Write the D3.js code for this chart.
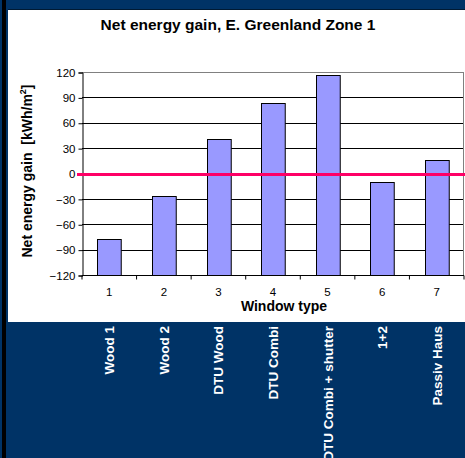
<!DOCTYPE html>
<html>
<head>
<meta charset="utf-8">
<script src="https://cdn.jsdelivr.net/npm/d3@7"></script>
<style>
html,body{margin:0;padding:0;background:#003366;}
svg{display:block;font-family:"Liberation Sans",Arial,sans-serif;}
</style>
</head>
<body>
<script>
const categories = ["1","2","3","4","5","6","7"];
const windowNames = ["Wood 1","Wood 2","DTU Wood","DTU Combi","DTU Combi + shutter","1+2","Passiv Haus"];
const values = [-77,-27,41,83,116,-10,16];
const yTicks = [-120,-90,-60,-30,0,30,60,90,120];
const title = "Net energy gain, E. Greenland Zone 1";
const xTitle = "Window type";

(function () {
const W = 465, H = 458;
const svg = d3.select("body").append("svg").attr("width", W).attr("height", H);

// background
svg.append("rect").attr("width", W).attr("height", H).attr("fill", "#003366");
svg.append("rect").attr("x", 2).attr("y", 0).attr("width", 4).attr("height", H).attr("fill", "#000");
svg.append("rect").attr("x", 8).attr("y", 9).attr("width", W - 8).attr("height", 1).attr("fill", "#001a33");
svg.append("rect").attr("x", 8).attr("y", 10).attr("width", W - 8).attr("height", 312).attr("fill", "#fff");

const pl = 82, pr = 463, pt = 72, pb = 275;
const x = d3.scaleBand().domain(categories).range([pl, pr + 1]).paddingInner(0.565).paddingOuter(0.2825);
const xTicksScale = d3.scaleBand().domain(categories).range([pl, pr + 1]);
const y = d3.scaleLinear().domain([-120, 120]).range([pb, pt]);

// plot border (top, right)
svg.append("line").attr("x1", pl).attr("x2", pr).attr("y1", pt + 0.5).attr("y2", pt + 0.5).attr("stroke", "#808080");
svg.append("line").attr("x1", pr + 0.5).attr("x2", pr + 0.5).attr("y1", pt).attr("y2", pb).attr("stroke", "#808080");

// gridlines
svg.append("g").selectAll("line").data(yTicks.filter(d => d !== 120 && d !== -120)).join("line")
  .attr("x1", pl).attr("x2", pr)
  .attr("y1", d => Math.round(y(d)) + 0.5).attr("y2", d => Math.round(y(d)) + 0.5)
  .attr("stroke", "#000").attr("stroke-width", 1);

// bars (from axis minimum)
svg.append("g").selectAll("rect").data(values).join("rect")
  .attr("x", (d, i) => Math.round(x(categories[i])) + 0.5)
  .attr("width", x.bandwidth())
  .attr("y", d => Math.round(y(d)) + 0.5)
  .attr("height", d => Math.round(y(-120)) - Math.round(y(d)))
  .attr("fill", "#9999FF").attr("stroke", "#000").attr("stroke-width", 1);

// y axis
const yAxis = d3.axisLeft(y).tickValues(yTicks).tickSize(4).tickPadding(3);
const gy = svg.append("g").attr("transform", `translate(${pl + 0.5},0.5)`).call(yAxis);
gy.select(".domain").attr("stroke", "#000");
gy.selectAll("text").attr("font-size", 11.5).attr("fill", "#000").attr("font-family", '"Liberation Sans",Arial,sans-serif');

// x axis
const xAxis = d3.axisBottom(xTicksScale).tickSize(4).tickPadding(8);
const gx = svg.append("g").attr("transform", `translate(0,${pb + 0.5})`).call(xAxis);
gx.selectAll(".tick line").attr("transform", `translate(${-xTicksScale.bandwidth() / 2},0)`);
gx.append("line").attr("x1", pr + 1).attr("x2", pr + 1).attr("y1", 0).attr("y2", 4).attr("stroke", "#000");
gx.select(".domain").attr("d", `M${pl},0H${pr + 1}`).attr("stroke", "#000");
gx.selectAll("text").attr("font-size", 11.5).attr("fill", "#000").attr("font-family", '"Liberation Sans",Arial,sans-serif');

// zero line
svg.append("line").attr("x1", 77).attr("x2", W).attr("y1", y(0) + 1).attr("y2", y(0) + 1)
  .attr("stroke", "#FF0066").attr("stroke-width", 3);

// titles
svg.append("text").attr("x", 238).attr("y", 30).attr("text-anchor", "middle")
  .attr("font-size", 15.5).attr("font-weight", "bold").text(title);
svg.append("text").attr("x", 284).attr("y", 311).attr("text-anchor", "middle")
  .attr("font-size", 14).attr("font-weight", "bold").text(xTitle);
const yt = svg.append("text").attr("transform", `translate(32,171) rotate(-90)`).attr("text-anchor", "middle")
  .attr("font-size", 14).attr("font-weight", "bold");
yt.append("tspan").text("Net energy gain\u00a0\u00a0[kWh/m");
yt.append("tspan").attr("font-size", 9).attr("dy", -6).text("2");
yt.append("tspan").attr("dy", 6).text("]");

// window names (rotated, white)
svg.append("g").selectAll("text").data(windowNames).join("text")
  .attr("transform", (d, i) => `translate(${xTicksScale(categories[i]) + xTicksScale.bandwidth() / 2 + 5},326) rotate(-90)`)
  .attr("text-anchor", "end").attr("fill", "#fff").attr("font-size", 13.5).attr("font-weight", "bold")
  .text(d => d);
})();
</script>
</body>
</html>
